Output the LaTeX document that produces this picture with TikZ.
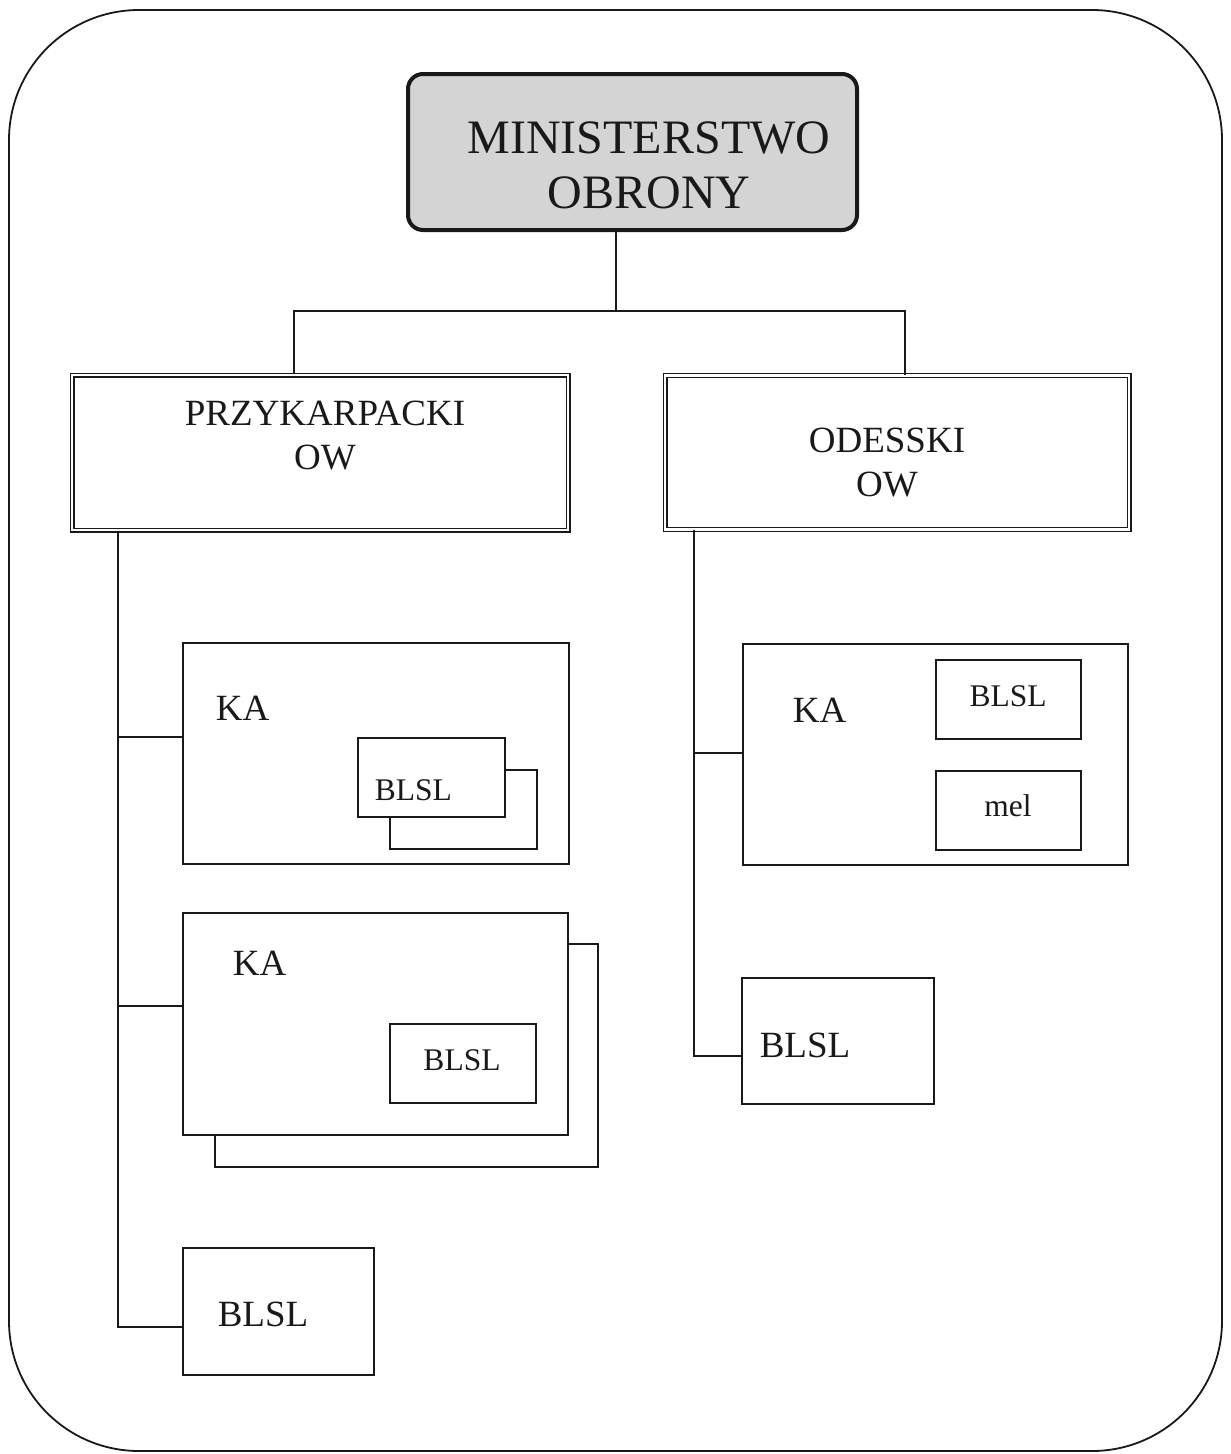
\documentclass[tikz,border=0pt]{standalone}
\usepackage{fontspec}
\setmainfont{Liberation Serif}
\begin{document}
\begin{tikzpicture}[x=1pt,y=-1pt,
  line width=1.6pt,
  box/.style={draw=black!90, line width=1.6pt, rectangle, inner sep=0pt},
  owbox/.style={draw=black!90, double=white, double distance=2.6pt, line width=1.2pt, rectangle, inner sep=0pt},
  txt/.style={inner sep=0pt, anchor=base west, text=black!90},
  big/.style={font=\fontsize{48}{55}\selectfont},
  mid/.style={font=\fontsize{37}{44}\selectfont},
  small/.style={font=\fontsize{31.5}{38}\selectfont},
  conn/.style={draw=black!90, line width=1.6pt}]
\useasboundingbox (0,0) rectangle (1231,1454);
% outer frame
\draw[draw=black!90, line width=1.8pt, rounded corners=130pt] (9,10) rectangle (1222,1451);
% ministry
\node[draw=black!90, line width=4pt, fill=black!17, rounded corners=15pt, minimum width=449pt, minimum height=156pt] (mo) at (632.5,152) {};
\node[big, align=center, inner sep=0pt, text=black!90] (motxt) at (649,165) {MINISTERSTWO\\OBRONY};
% OW boxes
\node[owbox, minimum width=496pt, minimum height=155pt] (po) at (320,452.5) {};
\node[mid, align=center, inner sep=0pt, text=black!90] (potxt) at (325,436) {PRZYKARPACKI\\OW};
\node[owbox, minimum width=464pt, minimum height=154pt] (od) at (897,452.5) {};
\node[mid, align=center, inner sep=0pt, text=black!90] (odtxt) at (887,463) {ODESSKI\\OW};
% left column
\node[box, minimum width=386pt, minimum height=221pt] (ka1) at (376,753.5) {};
\node[txt, mid] (ka1t) at (215,720) {KA};
\node[box, minimum width=147pt, minimum height=79pt] (b1back) at (463.5,809.5) {};
\node[box, fill=white, minimum width=147pt, minimum height=79pt] (b1) at (431.5,777.5) {};
\node[txt, small] (b1t) at (374,800) {BLSL};

\node[box, minimum width=383pt, minimum height=223pt] (ka2back) at (406.5,1055.5) {};
\node[box, fill=white, minimum width=385pt, minimum height=222pt] (ka2) at (375.5,1024) {};
\node[txt, mid] (ka2t) at (232,975) {KA};
\node[box, minimum width=146pt, minimum height=79pt] (b2) at (463,1063.5) {};
\node[small, inner sep=0pt, text=black!90] (b2t) at (462,1060) {BLSL};

\node[box, minimum width=191pt, minimum height=127pt] (b3) at (278.5,1311.5) {};
\node[txt, mid] (b3t) at (217,1326) {BLSL};
% right column
\node[box, minimum width=385pt, minimum height=221pt] (ka3) at (935.5,754.5) {};
\node[txt, mid] (ka3t) at (792,722) {KA};
\node[box, minimum width=145pt, minimum height=79pt] (b4) at (1008.5,699.5) {};
\node[small, inner sep=0pt, text=black!90] (b4t) at (1008,696) {BLSL};
\node[box, minimum width=145pt, minimum height=79pt] (mel) at (1008.5,810.5) {};
\node[small, inner sep=0pt, text=black!90] (melt) at (1008,806) {mel};

\node[box, minimum width=192pt, minimum height=126pt] (b5) at (838,1041) {};
\node[txt, mid] (b5t) at (759,1057) {BLSL};
% connectors
\coordinate (j) at (616,311);
\coordinate (lx) at (294,311);
\coordinate (rx) at (905,311);
\draw[conn] (mo.south -| j) -- (j);
\draw[conn] (lx |- po.north) -- (lx) -- (rx) -- (rx |- od.north);
\coordinate (ltx) at (118,0);
\coordinate (rtx) at (694,0);
\coordinate (c1) at (183,737);
\coordinate (c2) at (183,1006);
\coordinate (c3) at (183,1327);
\coordinate (c4) at (743,753);
\coordinate (c5) at (742,1056);
\draw[conn] (ltx |- po.south) -- (ltx |- c3) -- (c3);
\draw[conn] (ltx |- c1) -- (c1);
\draw[conn] (ltx |- c2) -- (c2);
\draw[conn] (rtx |- od.south) -- (rtx |- c5) -- (c5);
\draw[conn] (rtx |- c4) -- (c4);
\end{tikzpicture}
\end{document}
